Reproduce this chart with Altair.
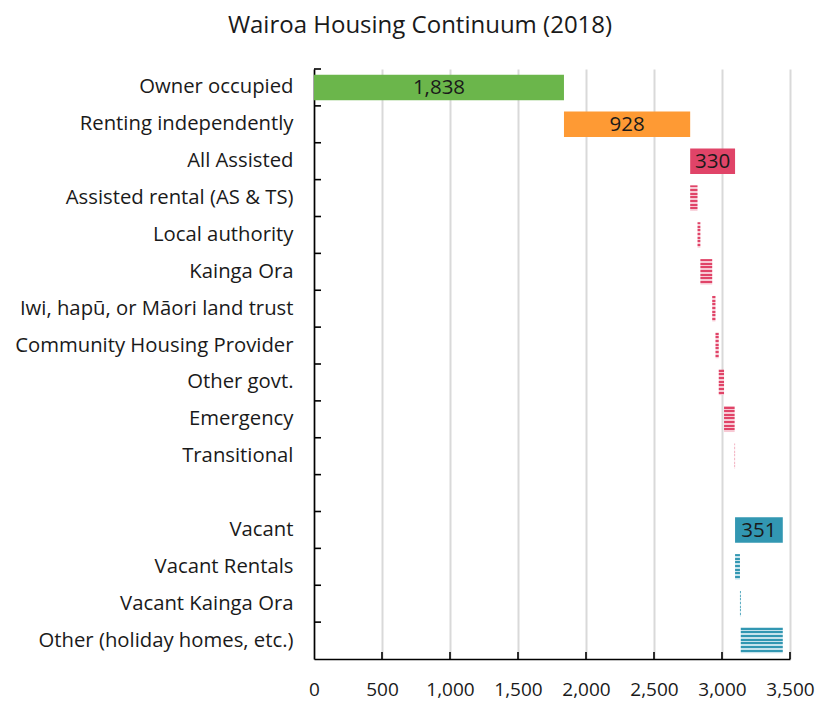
import altair as alt
import pandas as pd

categories = ["Owner occupied", "Renting independently", "All Assisted",
              "Assisted rental (AS & TS)", "Local authority", "Kainga Ora",
              "Iwi, hapū, or Māori land trust", "Community Housing Provider",
              "Other govt.", "Emergency", "Transitional", " ",
              "Vacant", "Vacant Rentals", "Vacant Kainga Ora",
              "Other (holiday homes, etc.)"]
values = [1838, 928, 330, 54, 21, 87, 24, 24, 39, 78, 3, None, 351, 36, 6, 309]
groups = ["owner", "renting", "assisted", "assisted_sub", "assisted_sub", "assisted_sub",
          "assisted_sub", "assisted_sub", "assisted_sub", "assisted_sub", "assisted_sub",
          "blank", "vacant", "vacant_sub", "vacant_sub", "vacant_sub"]
x_ticks = [500, 1000, 1500, 2000, 2500, 3000, 3500]

# waterfall starts
starts = []
main_end = 0
sub_pos = 0
for v, g in zip(values, groups):
    if g == "blank":
        starts.append(None)
        continue
    if g.endswith("_sub"):
        starts.append(sub_pos)
        sub_pos += v
    else:
        starts.append(main_end)
        sub_pos = main_end
        main_end += v

df = pd.DataFrame({"cat": categories, "value": values, "group": groups, "start": starts})
df["end"] = df["start"] + df["value"]
df["mid"] = (df["start"] + df["end"]) / 2
ticks_df = pd.DataFrame({"t": x_ticks})

W, H = 476, 590
STEP = H / len(categories)
FONT = "Open Sans"


def stripes(dark, light, n=7):
    stops = []
    for k in range(n):
        a = k / n
        b = (k + 0.55) / n
        c = (k + 1) / n
        stops += [{"color": dark, "offset": a}, {"color": dark, "offset": b},
                  {"color": light, "offset": b}, {"color": light, "offset": c}]
    return {"gradient": "linear", "x1": 0, "y1": 0, "x2": 0, "y2": 1, "stops": stops}


yscale = alt.Scale(domain=categories, paddingInner=0.31, paddingOuter=0.155)
xscale = alt.Scale(domain=[0, 3500], nice=False)

y_axis = alt.Axis(labelFontSize=20.3, labelFont=FONT, labelColor="#1a1a1a",
                  ticks=False, domainColor="#000000", domainWidth=1.6,
                  labelPadding=21, labelLimit=400, title=None)
x_axis = alt.Axis(values=[0] + x_ticks, labelExpr="format(datum.value, ',')",
                  labelFontSize=19,
                  labelFont=FONT, labelColor="#1a1a1a", ticks=False,
                  labelOverlap=False, labelFlush=False, title=None,
                  labelPadding=21, domainColor="#000000", domainWidth=1.6,
                  grid=True, gridColor="#d9d9d9", gridWidth=2)


def Y():
    return alt.Y("cat:N", scale=yscale, sort=None, axis=y_axis, title=None)


def X(field):
    return alt.X(field, scale=xscale, axis=x_axis, title=None)


base = alt.Chart(df)

main_colors = alt.Scale(domain=["owner", "renting", "assisted", "vacant"],
                        range=["#6bb64b", "#fe9a34", "#e04468", "#3297b2"])

main = base.transform_filter(
    "indexof(['owner','renting','assisted','vacant'], datum.group) >= 0"
).mark_bar(cornerRadius=0).encode(
    y=Y(), x=X("start:Q"), x2="end:Q",
    color=alt.Color("group:N", scale=main_colors, legend=None),
)

sub_red = base.transform_filter("datum.group == 'assisted_sub'").mark_bar(
    fill=stripes("#e04468", "#f7c9d4")
).encode(y=Y(), x=X("start:Q"), x2="end:Q")

sub_teal = base.transform_filter("datum.group == 'vacant_sub'").mark_bar(
    fill=stripes("#3297b2", "#c6e3ec")
).encode(y=Y(), x=X("start:Q"), x2="end:Q")

labels = base.transform_filter(
    "indexof(['owner','renting','assisted','vacant'], datum.group) >= 0"
).mark_text(fontSize=20.5, font=FONT, color="#1a1a1a", baseline="middle", dy=1).encode(
    y=Y(),
    x=X("mid:Q"),
    text=alt.Text("value:Q", format=","),
)

ytick = base.mark_rule(color="#000000", strokeWidth=1.6, yOffset=-STEP / 2).encode(
    y=Y(),
    x=alt.value(0), x2=alt.value(7),
)

xtick = alt.Chart(ticks_df).mark_rule(color="#000000", strokeWidth=1.6).encode(
    x=X("t:Q"),
    y=alt.value(H - 7), y2=alt.value(H),
)

chart = alt.layer(main, sub_red, sub_teal, labels, ytick, xtick).properties(
    width=W, height=H,
    title=alt.TitleParams("Wairoa Housing Continuum (2018)", fontSize=24, font=FONT,
                          fontWeight="normal", color="#1a1a1a", anchor="middle",
                          frame="group", dx=-132, offset=30),
    padding={"left": 306, "top": 61, "right": 30, "bottom": 42},
    autosize=alt.AutoSizeParams(type="none"),
).configure_view(stroke=None).configure_axis(labelFontWeight="normal")

chart.save("out.html", embed_options={"renderer": "svg", "actions": False})
